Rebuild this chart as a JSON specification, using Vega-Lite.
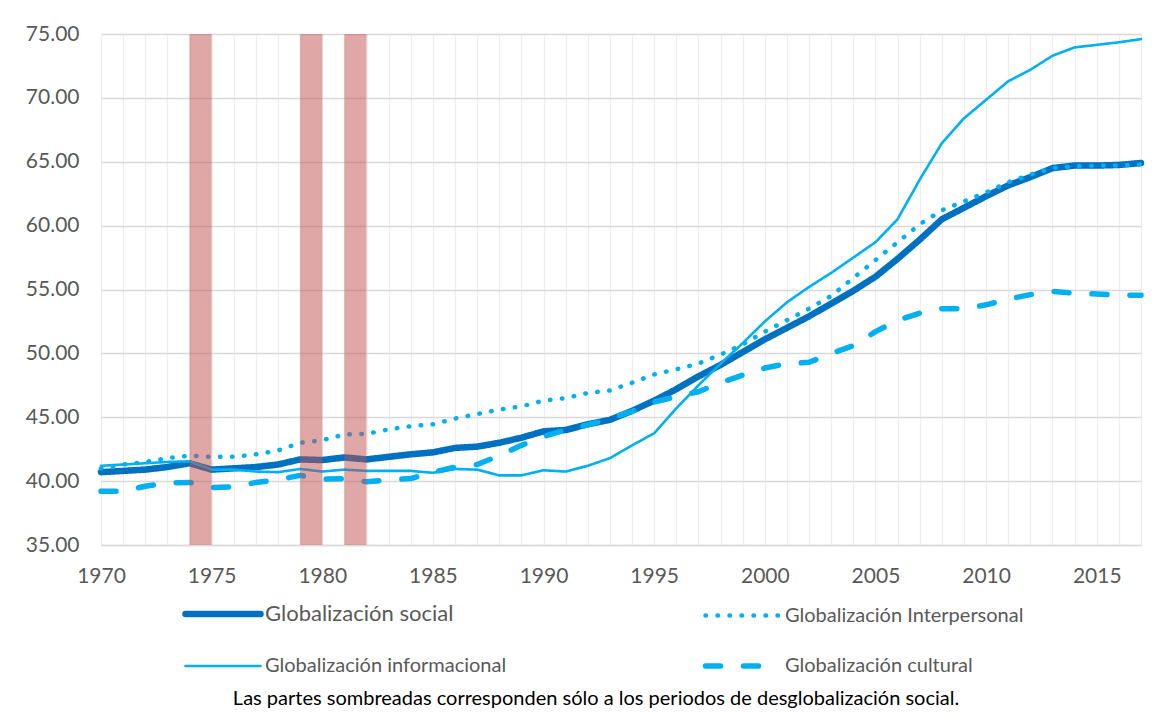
{
  "$schema": "https://vega.github.io/schema/vega-lite/v6.json",
  "width": 1040,
  "height": 511,
  "autosize": {"type": "none"},
  "padding": {"left": 101, "top": 34, "right": 29, "bottom": 172},
  "background": "white",
  "config": {"font": "Lato", "view": {"stroke": null}},
  "title": {
    "text": "Las partes sombreadas corresponden sólo a los periodos de desglobalización social.",
    "orient": "bottom", "frame": "group", "anchor": "middle", "offset": 12, "dx": -25,
    "fontSize": 20, "fontWeight": "normal", "color": "#000000", "font": "Lato"
  },
  "datasets": {
    "series": [
      {"year":1970,"serie":"Globalización social","valor":40.7},
      {"year":1971,"serie":"Globalización social","valor":40.8},
      {"year":1972,"serie":"Globalización social","valor":40.9},
      {"year":1973,"serie":"Globalización social","valor":41.1},
      {"year":1974,"serie":"Globalización social","valor":41.4},
      {"year":1975,"serie":"Globalización social","valor":40.9},
      {"year":1976,"serie":"Globalización social","valor":41.0},
      {"year":1977,"serie":"Globalización social","valor":41.1},
      {"year":1978,"serie":"Globalización social","valor":41.3},
      {"year":1979,"serie":"Globalización social","valor":41.7},
      {"year":1980,"serie":"Globalización social","valor":41.65},
      {"year":1981,"serie":"Globalización social","valor":41.85},
      {"year":1982,"serie":"Globalización social","valor":41.7},
      {"year":1983,"serie":"Globalización social","valor":41.9},
      {"year":1984,"serie":"Globalización social","valor":42.1},
      {"year":1985,"serie":"Globalización social","valor":42.25},
      {"year":1986,"serie":"Globalización social","valor":42.6},
      {"year":1987,"serie":"Globalización social","valor":42.7},
      {"year":1988,"serie":"Globalización social","valor":43.0},
      {"year":1989,"serie":"Globalización social","valor":43.4},
      {"year":1990,"serie":"Globalización social","valor":43.9},
      {"year":1991,"serie":"Globalización social","valor":44.0},
      {"year":1992,"serie":"Globalización social","valor":44.45},
      {"year":1993,"serie":"Globalización social","valor":44.8},
      {"year":1994,"serie":"Globalización social","valor":45.5},
      {"year":1995,"serie":"Globalización social","valor":46.3},
      {"year":1996,"serie":"Globalización social","valor":47.2},
      {"year":1997,"serie":"Globalización social","valor":48.2},
      {"year":1998,"serie":"Globalización social","valor":49.1},
      {"year":1999,"serie":"Globalización social","valor":50.1},
      {"year":2000,"serie":"Globalización social","valor":51.1},
      {"year":2001,"serie":"Globalización social","valor":52.0},
      {"year":2002,"serie":"Globalización social","valor":52.9},
      {"year":2003,"serie":"Globalización social","valor":53.9},
      {"year":2004,"serie":"Globalización social","valor":54.9},
      {"year":2005,"serie":"Globalización social","valor":56.0},
      {"year":2006,"serie":"Globalización social","valor":57.4},
      {"year":2007,"serie":"Globalización social","valor":58.9},
      {"year":2008,"serie":"Globalización social","valor":60.5},
      {"year":2009,"serie":"Globalización social","valor":61.4},
      {"year":2010,"serie":"Globalización social","valor":62.3},
      {"year":2011,"serie":"Globalización social","valor":63.15},
      {"year":2012,"serie":"Globalización social","valor":63.8},
      {"year":2013,"serie":"Globalización social","valor":64.5},
      {"year":2014,"serie":"Globalización social","valor":64.7},
      {"year":2015,"serie":"Globalización social","valor":64.7},
      {"year":2016,"serie":"Globalización social","valor":64.75},
      {"year":2017,"serie":"Globalización social","valor":64.9},
      {"year":1970,"serie":"Globalización Interpersonal","valor":41.0},
      {"year":1971,"serie":"Globalización Interpersonal","valor":41.3},
      {"year":1972,"serie":"Globalización Interpersonal","valor":41.5},
      {"year":1973,"serie":"Globalización Interpersonal","valor":41.8},
      {"year":1974,"serie":"Globalización Interpersonal","valor":42.0},
      {"year":1975,"serie":"Globalización Interpersonal","valor":41.9},
      {"year":1976,"serie":"Globalización Interpersonal","valor":41.9},
      {"year":1977,"serie":"Globalización Interpersonal","valor":42.1},
      {"year":1978,"serie":"Globalización Interpersonal","valor":42.4},
      {"year":1979,"serie":"Globalización Interpersonal","valor":43.0},
      {"year":1980,"serie":"Globalización Interpersonal","valor":43.2},
      {"year":1981,"serie":"Globalización Interpersonal","valor":43.65},
      {"year":1982,"serie":"Globalización Interpersonal","valor":43.7},
      {"year":1983,"serie":"Globalización Interpersonal","valor":44.05},
      {"year":1984,"serie":"Globalización Interpersonal","valor":44.3},
      {"year":1985,"serie":"Globalización Interpersonal","valor":44.45},
      {"year":1986,"serie":"Globalización Interpersonal","valor":44.9},
      {"year":1987,"serie":"Globalización Interpersonal","valor":45.25},
      {"year":1988,"serie":"Globalización Interpersonal","valor":45.6},
      {"year":1989,"serie":"Globalización Interpersonal","valor":45.85},
      {"year":1990,"serie":"Globalización Interpersonal","valor":46.3},
      {"year":1991,"serie":"Globalización Interpersonal","valor":46.5},
      {"year":1992,"serie":"Globalización Interpersonal","valor":46.9},
      {"year":1993,"serie":"Globalización Interpersonal","valor":47.1},
      {"year":1994,"serie":"Globalización Interpersonal","valor":47.7},
      {"year":1995,"serie":"Globalización Interpersonal","valor":48.35},
      {"year":1996,"serie":"Globalización Interpersonal","valor":48.75},
      {"year":1997,"serie":"Globalización Interpersonal","valor":49.2},
      {"year":1998,"serie":"Globalización Interpersonal","valor":49.9},
      {"year":1999,"serie":"Globalización Interpersonal","valor":50.7},
      {"year":2000,"serie":"Globalización Interpersonal","valor":51.7},
      {"year":2001,"serie":"Globalización Interpersonal","valor":52.6},
      {"year":2002,"serie":"Globalización Interpersonal","valor":53.5},
      {"year":2003,"serie":"Globalización Interpersonal","valor":54.5},
      {"year":2004,"serie":"Globalización Interpersonal","valor":55.9},
      {"year":2005,"serie":"Globalización Interpersonal","valor":57.3},
      {"year":2006,"serie":"Globalización Interpersonal","valor":58.7},
      {"year":2007,"serie":"Globalización Interpersonal","valor":60.1},
      {"year":2008,"serie":"Globalización Interpersonal","valor":61.2},
      {"year":2009,"serie":"Globalización Interpersonal","valor":61.9},
      {"year":2010,"serie":"Globalización Interpersonal","valor":62.6},
      {"year":2011,"serie":"Globalización Interpersonal","valor":63.4},
      {"year":2012,"serie":"Globalización Interpersonal","valor":64.0},
      {"year":2013,"serie":"Globalización Interpersonal","valor":64.5},
      {"year":2014,"serie":"Globalización Interpersonal","valor":64.65},
      {"year":2015,"serie":"Globalización Interpersonal","valor":64.7},
      {"year":2016,"serie":"Globalización Interpersonal","valor":64.7},
      {"year":2017,"serie":"Globalización Interpersonal","valor":64.8},
      {"year":1970,"serie":"Globalización informacional","valor":41.2},
      {"year":1971,"serie":"Globalización informacional","valor":41.3},
      {"year":1972,"serie":"Globalización informacional","valor":41.4},
      {"year":1973,"serie":"Globalización informacional","valor":41.5},
      {"year":1974,"serie":"Globalización informacional","valor":41.55},
      {"year":1975,"serie":"Globalización informacional","valor":40.9},
      {"year":1976,"serie":"Globalización informacional","valor":40.9},
      {"year":1977,"serie":"Globalización informacional","valor":40.75},
      {"year":1978,"serie":"Globalización informacional","valor":40.7},
      {"year":1979,"serie":"Globalización informacional","valor":40.95},
      {"year":1980,"serie":"Globalización informacional","valor":40.75},
      {"year":1981,"serie":"Globalización informacional","valor":40.9},
      {"year":1982,"serie":"Globalización informacional","valor":40.8},
      {"year":1983,"serie":"Globalización informacional","valor":40.8},
      {"year":1984,"serie":"Globalización informacional","valor":40.8},
      {"year":1985,"serie":"Globalización informacional","valor":40.65},
      {"year":1986,"serie":"Globalización informacional","valor":40.95},
      {"year":1987,"serie":"Globalización informacional","valor":40.9},
      {"year":1988,"serie":"Globalización informacional","valor":40.45},
      {"year":1989,"serie":"Globalización informacional","valor":40.45},
      {"year":1990,"serie":"Globalización informacional","valor":40.85},
      {"year":1991,"serie":"Globalización informacional","valor":40.75},
      {"year":1992,"serie":"Globalización informacional","valor":41.2},
      {"year":1993,"serie":"Globalización informacional","valor":41.8},
      {"year":1994,"serie":"Globalización informacional","valor":42.8},
      {"year":1995,"serie":"Globalización informacional","valor":43.75},
      {"year":1996,"serie":"Globalización informacional","valor":45.7},
      {"year":1997,"serie":"Globalización informacional","valor":47.5},
      {"year":1998,"serie":"Globalización informacional","valor":49.2},
      {"year":1999,"serie":"Globalización informacional","valor":50.8},
      {"year":2000,"serie":"Globalización informacional","valor":52.5},
      {"year":2001,"serie":"Globalización informacional","valor":54.0},
      {"year":2002,"serie":"Globalización informacional","valor":55.2},
      {"year":2003,"serie":"Globalización informacional","valor":56.3},
      {"year":2004,"serie":"Globalización informacional","valor":57.5},
      {"year":2005,"serie":"Globalización informacional","valor":58.7},
      {"year":2006,"serie":"Globalización informacional","valor":60.5},
      {"year":2007,"serie":"Globalización informacional","valor":63.6},
      {"year":2008,"serie":"Globalización informacional","valor":66.45},
      {"year":2009,"serie":"Globalización informacional","valor":68.4},
      {"year":2010,"serie":"Globalización informacional","valor":69.85},
      {"year":2011,"serie":"Globalización informacional","valor":71.3},
      {"year":2012,"serie":"Globalización informacional","valor":72.2},
      {"year":2013,"serie":"Globalización informacional","valor":73.3},
      {"year":2014,"serie":"Globalización informacional","valor":73.95},
      {"year":2015,"serie":"Globalización informacional","valor":74.15},
      {"year":2016,"serie":"Globalización informacional","valor":74.35},
      {"year":2017,"serie":"Globalización informacional","valor":74.6},
      {"year":1970,"serie":"Globalización cultural","valor":39.2},
      {"year":1971,"serie":"Globalización cultural","valor":39.2},
      {"year":1972,"serie":"Globalización cultural","valor":39.6},
      {"year":1973,"serie":"Globalización cultural","valor":39.85},
      {"year":1974,"serie":"Globalización cultural","valor":39.9},
      {"year":1975,"serie":"Globalización cultural","valor":39.5},
      {"year":1976,"serie":"Globalización cultural","valor":39.55},
      {"year":1977,"serie":"Globalización cultural","valor":39.9},
      {"year":1978,"serie":"Globalización cultural","valor":40.1},
      {"year":1979,"serie":"Globalización cultural","valor":40.45},
      {"year":1980,"serie":"Globalización cultural","valor":40.15},
      {"year":1981,"serie":"Globalización cultural","valor":40.2},
      {"year":1982,"serie":"Globalización cultural","valor":39.95},
      {"year":1983,"serie":"Globalización cultural","valor":40.1},
      {"year":1984,"serie":"Globalización cultural","valor":40.2},
      {"year":1985,"serie":"Globalización cultural","valor":40.7},
      {"year":1986,"serie":"Globalización cultural","valor":41.1},
      {"year":1987,"serie":"Globalización cultural","valor":41.3},
      {"year":1988,"serie":"Globalización cultural","valor":42.0},
      {"year":1989,"serie":"Globalización cultural","valor":42.8},
      {"year":1990,"serie":"Globalización cultural","valor":43.5},
      {"year":1991,"serie":"Globalización cultural","valor":44.0},
      {"year":1992,"serie":"Globalización cultural","valor":44.4},
      {"year":1993,"serie":"Globalización cultural","valor":44.9},
      {"year":1994,"serie":"Globalización cultural","valor":45.45},
      {"year":1995,"serie":"Globalización cultural","valor":46.2},
      {"year":1996,"serie":"Globalización cultural","valor":46.6},
      {"year":1997,"serie":"Globalización cultural","valor":47.0},
      {"year":1998,"serie":"Globalización cultural","valor":47.7},
      {"year":1999,"serie":"Globalización cultural","valor":48.3},
      {"year":2000,"serie":"Globalización cultural","valor":48.85},
      {"year":2001,"serie":"Globalización cultural","valor":49.2},
      {"year":2002,"serie":"Globalización cultural","valor":49.3},
      {"year":2003,"serie":"Globalización cultural","valor":50.0},
      {"year":2004,"serie":"Globalización cultural","valor":50.6},
      {"year":2005,"serie":"Globalización cultural","valor":51.7},
      {"year":2006,"serie":"Globalización cultural","valor":52.6},
      {"year":2007,"serie":"Globalización cultural","valor":53.15},
      {"year":2008,"serie":"Globalización cultural","valor":53.5},
      {"year":2009,"serie":"Globalización cultural","valor":53.5},
      {"year":2010,"serie":"Globalización cultural","valor":53.8},
      {"year":2011,"serie":"Globalización cultural","valor":54.25},
      {"year":2012,"serie":"Globalización cultural","valor":54.6},
      {"year":2013,"serie":"Globalización cultural","valor":54.85},
      {"year":2014,"serie":"Globalización cultural","valor":54.7},
      {"year":2015,"serie":"Globalización cultural","valor":54.65},
      {"year":2016,"serie":"Globalización cultural","valor":54.55},
      {"year":2017,"serie":"Globalización cultural","valor":54.55}
    ],
    "bandas": [
      {"year": 1974, "fin": 1975},
      {"year": 1979, "fin": 1980},
      {"year": 1981, "fin": 1982}
    ]
  },
  "resolve": {"axis": {"x": "independent"}},
  "layer": [
    {
      "data": {"name": "series"},
      "encoding": {
        "x": {
          "field": "year", "type": "quantitative",
          "scale": {"domain": [1970, 2017], "nice": false, "zero": false},
          "axis": {
            "title": null,
            "values": [1970, 1975, 1980, 1985, 1990, 1995, 2000, 2005, 2010, 2015],
            "format": "d",
            "labelFontSize": 21, "labelColor": "#595959", "labelPadding": 20,
            "labelFlush": false, "labelOverlap": false,
            "ticks": false,
            "domainColor": "#D9D9D9", "domainWidth": 1.5,
            "grid": false
          }
        },
        "y": {
          "field": "valor", "type": "quantitative",
          "scale": {"domain": [35, 75], "nice": false, "zero": false},
          "axis": {
            "title": null,
            "values": [35, 40, 45, 50, 55, 60, 65, 70, 75],
            "format": ".2f",
            "labelFontSize": 21, "labelColor": "#595959", "labelPadding": 22,
            "ticks": false, "domain": false,
            "grid": true, "gridColor": "#D9D9D9", "gridWidth": 1.3
          }
        },
        "color": {
          "field": "serie", "type": "nominal",
          "scale": {
            "domain": ["Globalización social", "Globalización informacional", "Globalización Interpersonal", "Globalización cultural"],
            "range": ["#0070C0", "#00B0F0", "#00B0F0", "#00B0F0"]
          },
          "legend": {
            "title": null, "orient": "none", "legendX": 83, "legendY": 541,
            "direction": "vertical", "columns": 2, "columnPadding": 187, "rowPadding": -47,
            "padding": 0, "symbolType": "stroke", "symbolSize": 5625,
            "labelFontSize": 20, "labelColor": "#595959", "labelOffset": 3, "labelLimit": 400,
            "encoding": {
              "symbols": {
                "strokeCap": {"value": "round"},
                "strokeWidth": {"value": {"expr": "(datum.value == 'Globalización social' ? 6.5 : (datum.value == 'Globalización Interpersonal' ? 4.5 : (datum.value == 'Globalización cultural' ? 5.5 : 2.6)))"}}
              },
              "labels": {
                "fontSize": {"value": {"expr": "(datum.value == 'Globalización social' ? 22 : 20)"}}
              }
            }
          }
        },
        "strokeDash": {
          "field": "serie", "type": "nominal",
          "scale": {
            "domain": ["Globalización social", "Globalización informacional", "Globalización Interpersonal", "Globalización cultural"],
            "range": [[1, 0], [1, 0], [0.5, 11.5], [15, 23]]
          },
          "legend": {
            "title": null, "orient": "none", "legendX": 83, "legendY": 541,
            "direction": "vertical", "columns": 2, "columnPadding": 187, "rowPadding": -47,
            "padding": 0, "symbolType": "stroke", "symbolSize": 5625,
            "labelFontSize": 20, "labelColor": "#595959", "labelOffset": 3, "labelLimit": 400,
            "encoding": {
              "symbols": {
                "strokeCap": {"value": "round"},
                "strokeWidth": {"value": {"expr": "(datum.value == 'Globalización social' ? 6.5 : (datum.value == 'Globalización Interpersonal' ? 4.5 : (datum.value == 'Globalización cultural' ? 5.5 : 2.6)))"}}
              },
              "labels": {
                "fontSize": {"value": {"expr": "(datum.value == 'Globalización social' ? 22 : 20)"}}
              }
            }
          }
        }
      },
      "layer": [
        {"transform": [{"filter": "datum.serie == 'Globalización social'"}], "mark": {"type": "line", "strokeWidth": 6.5, "strokeCap": "round", "strokeJoin": "round"}},
        {"transform": [{"filter": "datum.serie == 'Globalización Interpersonal'"}], "mark": {"type": "line", "strokeWidth": 4.5, "strokeCap": "round", "strokeJoin": "round"}},
        {"transform": [{"filter": "datum.serie == 'Globalización informacional'"}], "mark": {"type": "line", "strokeWidth": 2.6, "strokeCap": "round", "strokeJoin": "round"}},
        {"transform": [{"filter": "datum.serie == 'Globalización cultural'"}], "mark": {"type": "line", "strokeWidth": 5.5, "strokeCap": "round", "strokeJoin": "round"}}
      ]
    },
    {
      "data": {"name": "bandas"},
      "mark": {"type": "rect", "color": "#C0504D", "opacity": 0.5},
      "encoding": {
        "x": {
          "field": "year", "type": "quantitative",
          "axis": {
            "orient": "top", "title": null,
            "values": [1970,1971,1972,1973,1974,1975,1976,1977,1978,1979,1980,1981,1982,1983,1984,1985,1986,1987,1988,1989,1990,1991,1992,1993,1994,1995,1996,1997,1998,1999,2000,2001,2002,2003,2004,2005,2006,2007,2008,2009,2010,2011,2012,2013,2014,2015,2016,2017],
            "labels": false, "ticks": false, "domain": false,
            "grid": true, "gridColor": "#EEEEEE", "gridWidth": 1.3
          }
        },
        "x2": {"field": "fin"}
      }
    }
  ]
}
